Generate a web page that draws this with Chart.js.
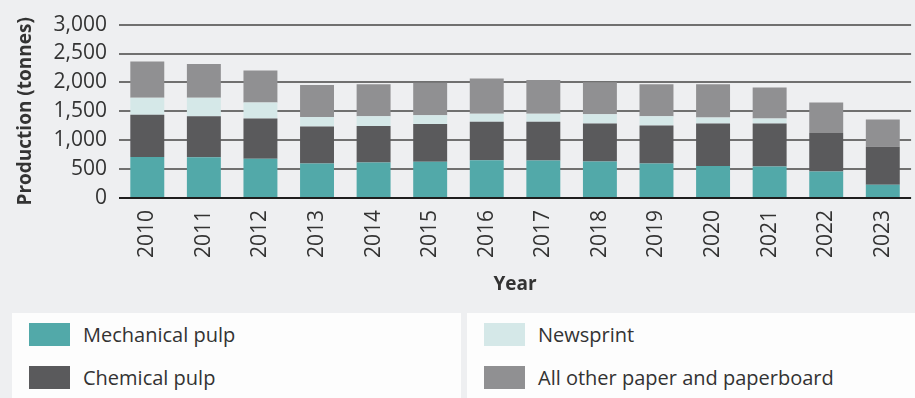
<!DOCTYPE html>
<html>
<head>
<meta charset="utf-8">
<script src="https://cdn.jsdelivr.net/npm/chart.js@4.4.1/dist/chart.umd.min.js"></script>
<style>
  html, body {
    margin: 0;
    padding: 0;
    width: 915px;
    height: 398px;
    overflow: hidden;
    background: #eeeff1;
    font-family: "Open Sans", sans-serif;
    color: #333;
  }
  #wrap {
    position: absolute;
    left: 0;
    top: 0;
  }
  .legend {
    position: absolute;
    top: 313px;
    left: 12px;
    width: 910px;
    height: 100px;
    display: flex;
    gap: 6px;
  }
  .legend .box {
    background: #fdfdfd;
    width: 449px;
    height: 100px;
    position: relative;
  }
  .legend .item {
    position: absolute;
    left: 17px;
    display: flex;
    align-items: center;
    font-size: 20px;
    height: 24px;
  }
  .legend .sw {
    width: 41px;
    height: 23px;
    margin-right: 13px;
  }
</style>
</head>
<body>
<div id="wrap"><canvas id="chart" width="920" height="298"></canvas></div>
<div class="legend" id="legend"></div>

<script>
const years = ["2010", "2011", "2012", "2013", "2014", "2015", "2016", "2017", "2018", "2019", "2020", "2021", "2022", "2023"];

const mechanicalPulp = [710, 705, 681, 598, 615, 627, 655, 650, 632, 598, 552, 543, 460, 228];
const chemicalPulp = [731, 708, 693, 638, 632, 653, 665, 670, 655, 655, 739, 748, 665, 659];
const newsprint = [294, 322, 278, 167, 166, 150, 138, 138, 160, 160, 100, 83, 0, 0];
const otherPaper = [625, 582, 553, 553, 555, 565, 610, 582, 555, 555, 577, 537, 527, 471];

const seriesNames = ["Mechanical pulp", "Chemical pulp", "Newsprint", "All other paper and paperboard"];
const seriesColors = ["#52a9a9", "#5a5a5c", "#d5e8e8", "#909092"];

const ctx = document.getElementById("chart").getContext("2d");

const chart = new Chart(ctx, {
    type: "bar",
    data: {
        labels: years,
        datasets: [mechanicalPulp, chemicalPulp, newsprint, otherPaper].map((vals, i) => ({
            label: seriesNames[i],
            data: vals,
            backgroundColor: seriesColors[i],
            borderWidth: 0,
            categoryPercentage: 1,
            barPercentage: 0.6
        }))
    },
    options: {
        responsive: false,
        animation: false,
        layout: { padding: { top: 18, right: 0, left: 0, bottom: 0 } },
        plugins: {
            legend: { display: false },
            tooltip: { enabled: false }
        },
        scales: {
            x: {
                stacked: true,
                grid: { display: false, drawTicks: false },
                border: { display: false },
                ticks: {
                    minRotation: 90,
                    maxRotation: 90,
                    autoSkip: false,
                    padding: 12,
                    color: "#333",
                    font: { family: "Open Sans", size: 21 }
                },
                title: {
                    display: true,
                    text: "Year",
                    color: "#333",
                    padding: { top: 0, bottom: 2 },
                    font: { family: "Open Sans", size: 19, weight: "bold" }
                },
                afterFit: axis => { axis.height = 100; }
            },
            y: {
                stacked: true,
                min: 0,
                max: 3000,
                grid: {
                    drawTicks: false,
                    lineWidth: 2,
                    color: c => c.tick && c.tick.value === 0 ? "#1e1e1e" : "#707070"
                },
                border: { display: false },
                ticks: {
                    stepSize: 500,
                    autoSkip: false,
                    padding: 12,
                    color: "#333",
                    font: { family: "Open Sans", size: 21 },
                    callback: v => v.toLocaleString("en-US")
                },
                title: {
                    display: true,
                    text: "Production (tonnes)",
                    color: "#333",
                    padding: { top: 14, bottom: 0 },
                    font: { family: "Open Sans", size: 19, weight: "bold" }
                },
                afterFit: axis => { axis.width = 119; }
            }
        }
    }
});

// legend in two white boxes, two rows each
const legendEl = document.getElementById("legend");
const columns = [[0, 1], [2, 3]];
columns.forEach(col => {
    const box = document.createElement("div");
    box.className = "box";
    col.forEach((idx, row) => {
        const item = document.createElement("div");
        item.className = "item";
        item.style.top = (row === 0 ? 9 : 52) + "px";
        item.innerHTML = '<span class="sw" style="background:' + seriesColors[idx] + '"></span>' + seriesNames[idx];
        box.appendChild(item);
    });
    legendEl.appendChild(box);
});
</script>
</body>
</html>
